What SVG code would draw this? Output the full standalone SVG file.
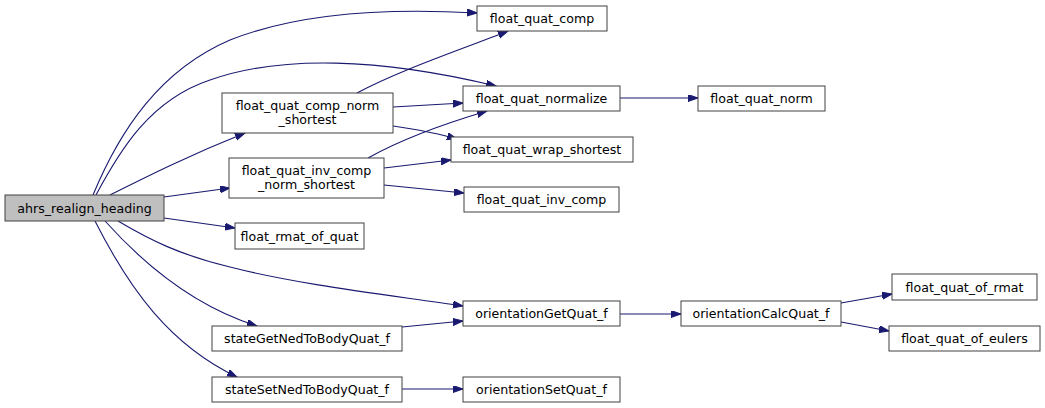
<svg xmlns="http://www.w3.org/2000/svg" width="1045" height="408" viewBox="0 0 1045 408">
<style>
.n rect{fill:#fff;stroke:#404040;stroke-width:1}
.root rect{fill:#bfbfbf}
text{font-family:"DejaVu Sans","Liberation Sans",sans-serif;font-size:12.6px;fill:#000;text-anchor:middle}
.e path{fill:none;stroke:#191970;stroke-width:1.1;marker-end:url(#ah)}
</style>
<defs>
<marker id="ah" markerUnits="userSpaceOnUse" markerWidth="11" markerHeight="8" refX="10" refY="3.5" orient="auto">
<path d="M0,0 L10,3.5 L0,7 Z" fill="#191970" stroke="#191970" stroke-width="1"/>
</marker>
</defs>
<rect width="1045" height="408" fill="#fff"/>
<g id="edges" class="e">
<path d="M93,195 C120,130 160,70 230,40 C300,12 390,8 477,13"/>
<path d="M96,195 C120,150 150,100 210,80 C280,55 380,58 496,86"/>
<path d="M110,195 C150,175 190,155 245,133"/>
<path d="M164,197 L230,188"/>
<path d="M164,218 L235,228"/>
<path d="M118,221 C150,240 180,255 230,267 C300,285 390,295 463,306"/>
<path d="M105,221 C140,260 190,305 257,326"/>
<path d="M95,221 C130,290 170,345 237,377"/>
<path d="M357,93 C400,70 460,50 508,31"/>
<path d="M393,107 L463,103"/>
<path d="M393,126 C420,130 440,134 457,139"/>
<path d="M368,158 C400,140 440,125 487,111"/>
<path d="M384,168 L451,160"/>
<path d="M384,185 L464,193"/>
<path d="M620,98 L698,98"/>
<path d="M402,327 L463,321"/>
<path d="M620,314 L681,314"/>
<path d="M841,303 L892,294"/>
<path d="M841,322 L889,331"/>
<path d="M402,389 L463,389"/>
</g>
<g id="ahrs_realign_heading" class="n root"><rect x="5" y="195" width="159" height="26"/><text x="84.5" y="212.5">ahrs_realign_heading</text></g>
<g id="float_quat_comp" class="n"><rect x="477" y="6" width="130" height="25"/><text x="542" y="23">float_quat_comp</text></g>
<g id="float_quat_comp_norm_shortest" class="n"><rect x="222" y="93" width="171" height="40"/><text x="307.5" y="110">float_quat_comp_norm</text><text x="307.5" y="123.5">_shortest</text></g>
<g id="float_quat_inv_comp_norm_shortest" class="n"><rect x="229" y="158" width="155" height="40"/><text x="306.5" y="175">float_quat_inv_comp</text><text x="306.5" y="188.5">_norm_shortest</text></g>
<g id="float_quat_normalize" class="n"><rect x="463" y="86" width="157" height="25"/><text x="541.5" y="103">float_quat_normalize</text></g>
<g id="float_quat_norm" class="n"><rect x="698" y="86" width="127" height="25"/><text x="761.5" y="103">float_quat_norm</text></g>
<g id="float_quat_wrap_shortest" class="n"><rect x="451" y="137" width="182" height="25"/><text x="542" y="154">float_quat_wrap_shortest</text></g>
<g id="float_quat_inv_comp" class="n"><rect x="464" y="187" width="155" height="25"/><text x="541.5" y="204">float_quat_inv_comp</text></g>
<g id="float_rmat_of_quat" class="n"><rect x="235" y="223" width="129" height="26"/><text x="299.5" y="240.5">float_rmat_of_quat</text></g>
<g id="orientationGetQuat_f" class="n"><rect x="463" y="301" width="157" height="25"/><text x="541.5" y="318">orientationGetQuat_f</text></g>
<g id="stateGetNedToBodyQuat_f" class="n"><rect x="212" y="326" width="190" height="25"/><text x="307" y="343">stateGetNedToBodyQuat_f</text></g>
<g id="stateSetNedToBodyQuat_f" class="n"><rect x="212" y="377" width="190" height="25"/><text x="307" y="394">stateSetNedToBodyQuat_f</text></g>
<g id="orientationSetQuat_f" class="n"><rect x="463" y="377" width="157" height="25"/><text x="541.5" y="394">orientationSetQuat_f</text></g>
<g id="orientationCalcQuat_f" class="n"><rect x="681" y="301" width="160" height="25"/><text x="761" y="318">orientationCalcQuat_f</text></g>
<g id="float_quat_of_rmat" class="n"><rect x="892" y="274" width="145" height="26"/><text x="964.5" y="291.5">float_quat_of_rmat</text></g>
<g id="float_quat_of_eulers" class="n"><rect x="889" y="326" width="151" height="25"/><text x="964.5" y="343">float_quat_of_eulers</text></g>
</svg>
